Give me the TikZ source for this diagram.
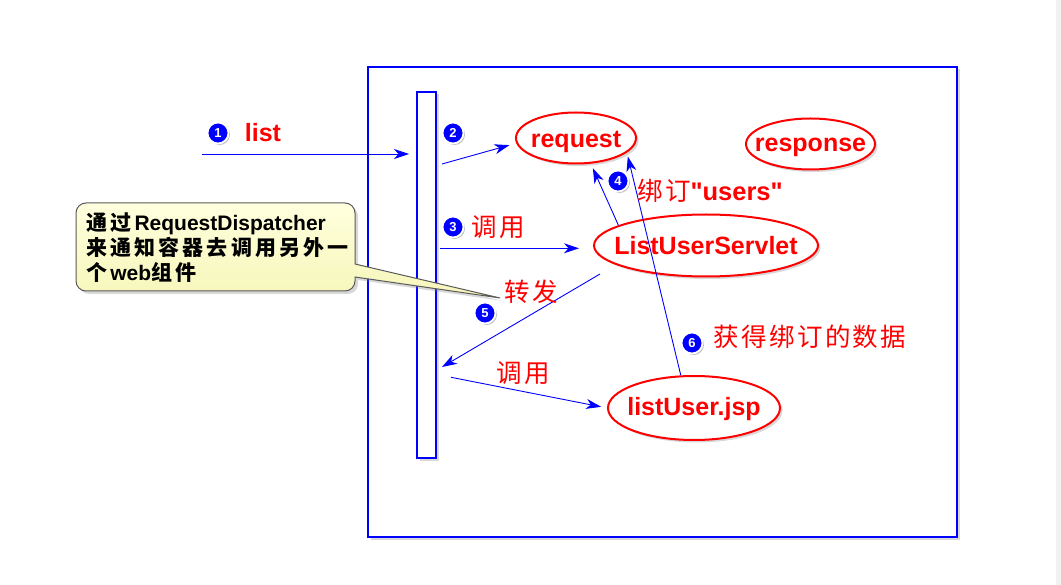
\documentclass[tikz,border=0pt]{standalone}
\usepackage{fontspec}
\setmainfont{Liberation Sans}
\newfontfamily\cjk[LetterSpace=9]{Noto Sans CJK SC}
\newfontfamily\cjknote[LetterSpace=15]{Noto Sans CJK SC}
\usetikzlibrary{shapes.geometric,shadows,arrows.meta}
\definecolor{noteline}{HTML}{5A5A5A}
\newcommand{\zhnote}[1]{{\fontsize{21}{25}\selectfont\cjknote\bfseries #1}}
\tikzset{
  frame/.style={draw=blue, line width=2.5pt, fill=white, inner sep=0pt,
    drop shadow={shadow xshift=2.5pt, shadow yshift=-2.5pt, opacity=.3}},
  ent/.style={ellipse, draw=red, line width=2pt, fill=white, inner sep=0pt,
    drop shadow={shadow xshift=2.5pt, shadow yshift=-2.5pt, opacity=.3}},
  enttext/.style={text=red, inner sep=0pt, font=\fontsize{25}{30}\selectfont\bfseries},
  num/.style={circle, fill=blue, draw=white, line width=1.8pt, minimum size=21pt,
    inner sep=0pt, text=white, font=\fontsize{13}{13}\selectfont\bfseries,
    drop shadow={shadow xshift=1.5pt, shadow yshift=-1.5pt, opacity=.5}},
  lbl/.style={text=red, inner sep=0pt, font=\fontsize{25.5}{30}\selectfont\cjk},
  msg/.style={blue, line width=0.9pt, -{Stealth[length=15pt, width=10pt, inset=4.5pt]}},
  notebox/.style={draw=noteline, line width=1pt,
    top color={rgb,255:red,255;green,255;blue,222}, bottom color={rgb,255:red,246;green,246;blue,186},
    drop shadow={shadow xshift=3pt, shadow yshift=-3pt, opacity=.3}},
  notetext/.style={align=left, inner sep=0pt, anchor=west, font=\fontsize{21}{25}\selectfont}
}
\begin{document}
\begin{tikzpicture}[x=1pt, y=-1pt]
            \fill[white] (0,0) rectangle (1061,585);
            \fill[black!5] (1056,0) rectangle (1061,585);
            \useasboundingbox (0,0) rectangle (1061,585);

            \node[frame, minimum width=589pt, minimum height=470pt] (web) at (662.5,302) {};
            \node[frame, line width=2pt, minimum width=19pt, minimum height=366pt] (bar) at (426.5,275) {};

            \node[ent, minimum width=120pt, minimum height=51pt, label={[enttext, yshift=-4pt]center:request}] (req) at (576,138) {};
            \node[ent, minimum width=129pt, minimum height=51pt, label={[enttext, yshift=-3pt]center:response}] (resp) at (810.5,144) {};
            \node[ent, minimum width=224pt, minimum height=62pt, label={[enttext]center:ListUserServlet}] (serv) at (706,245.5) {};
            \node[ent, minimum width=172pt, minimum height=64pt, label={[enttext, yshift=-1pt]center:listUser.jsp}] (jsp) at (694,408) {};

            \coordinate (src) at (202,154);
            \coordinate (b1) at (409,154);
            \coordinate (b2) at (442,164);
            \coordinate (b3) at (440,248.3);
            \coordinate (fwd) at (600,274);
            \coordinate (b5) at (442,367);
            \coordinate (b6) at (451,377.3);

            \draw[msg] (src) -- (b1);
            \draw[msg, shorten >=7pt] (b2) -- (req.185);
            \draw[msg, shorten >=14pt] (b3) -- (b3 -| serv.west);
            \draw[msg, shorten >=5pt] (serv.167) -- (req.-60);
            \draw[msg] (fwd) -- (b5);
            \draw[msg, shorten >=6pt] (b6) -- (jsp.west);
            \draw[msg, shorten >=4pt] (jsp.112) -- (req.-16);

            \node[num] (n1) at (218,133) {1};
            \node[num] (n2) at (453,133) {2};
            \node[num] (n3) at (453,227) {3};
            \node[num] (n4) at (618,181) {4};
            \node[num] (n5) at (485,313) {5};
            \node[num] (n6) at (692,343) {6};

            \node[lbl, font=\fontsize{25}{30}\selectfont\bfseries] (list) at (263,133) {list};
            \node[lbl] (call1) at (498,227) {调用};
            \node[lbl] (bind) at (710,191) {绑订{\rmfamily\bfseries \textquotedbl users\textquotedbl}};
            \node[lbl] (forward) at (531,292) {转发};
            \node[lbl] (fetch) at (810,337) {获得绑订的数据};
            \node[lbl] (call2) at (523,373) {调用};

            \path[notebox] (76,247) [rounded corners=10pt] -- (76,203) -- (355,203) -- (355,250)
              [sharp corners] -- (355,264) -- (500,298) -- (355,277)
              [rounded corners=10pt] -- (355,291) -- (76,291) -- cycle;
            \node[notetext] (note) at (86,248) {\zhnote{通过}\textbf{RequestDispatcher}\\
              \zhnote{来通知容器去调用另外一}\\
              \zhnote{个}\textbf{web}\zhnote{组件}};
          \end{tikzpicture}
\end{document}
